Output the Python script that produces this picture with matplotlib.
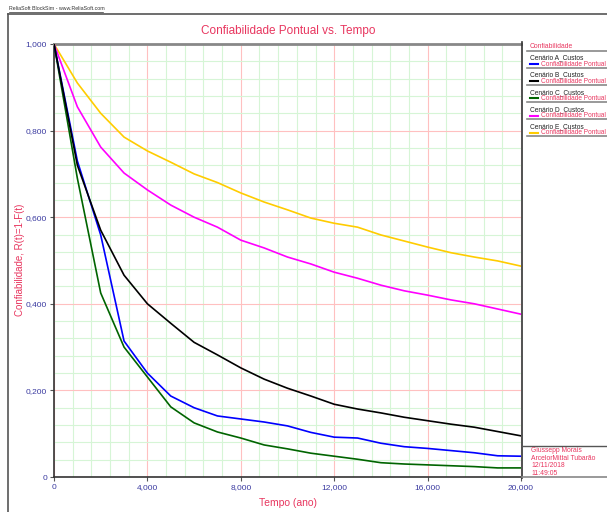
"""
Confiabilidade Pontual vs. Tempo - cenarios de custo (BlockSim)
"""
import numpy as np
import matplotlib.pyplot as plt
from matplotlib.ticker import MultipleLocator, FuncFormatter
from matplotlib.lines import Line2D

plt.rcParams['font.family'] = ['Liberation Sans', 'DejaVu Sans']

'''DADOS'''
tempo = [0, 1000, 2000, 3000, 4000, 5000, 6000, 7000, 8000, 9000, 10000,
         11000, 12000, 13000, 14000, 15000, 16000, 17000, 18000, 19000, 20000]

R_A = [1.0, 0.73, 0.559, 0.314, 0.240, 0.187, 0.160, 0.141, 0.134, 0.127, 0.118,
       0.103, 0.092, 0.090, 0.078, 0.070, 0.066, 0.061, 0.056, 0.049, 0.048]
R_B = [1.0, 0.72, 0.570, 0.466, 0.400, 0.355, 0.311, 0.282, 0.252, 0.226, 0.205,
       0.187, 0.168, 0.157, 0.148, 0.138, 0.130, 0.122, 0.115, 0.105, 0.095]
R_C = [1.0, 0.69, 0.425, 0.300, 0.231, 0.162, 0.125, 0.104, 0.090, 0.074, 0.065,
       0.055, 0.048, 0.041, 0.033, 0.030, 0.028, 0.026, 0.024, 0.021, 0.021]
R_D = [1.0, 0.855, 0.762, 0.702, 0.663, 0.628, 0.600, 0.577, 0.547, 0.529, 0.508,
       0.492, 0.473, 0.459, 0.443, 0.430, 0.420, 0.409, 0.400, 0.388, 0.376]
R_E = [1.0, 0.91, 0.840, 0.785, 0.753, 0.727, 0.700, 0.680, 0.656, 0.635, 0.617,
       0.598, 0.586, 0.577, 0.559, 0.545, 0.531, 0.518, 0.508, 0.499, 0.487]

cenarios = ['Cenário A_Custos', 'Cenário B_Custos', 'Cenário C_Custos',
            'Cenário D_Custos', 'Cenário E_Custos']
cores = ['#0000ff', '#000000', '#006400', '#ff00ff', '#ffcc00']
series = [R_A, R_B, R_C, R_D, R_E]

info = ['Giussepp Morais', 'ArcelorMittal Tubarão', '12/11/2018', '11:49:05']

red = '#e8365f'
blue_txt = '#3a3aa0'
W, H = 607, 512

'''FIGURA'''
fig = plt.figure(figsize=(W/100, H/100), dpi=100)
ax = fig.add_axes([54/W, 1-477/H, 467/W, 433/H])

# ordem de desenho: amarelo e magenta atras
for i in [4, 3, 2, 0, 1]:
    ax.plot(tempo, series[i], color=cores[i], lw=1.2, zorder=3)

ax.set_xlim(0, 20000)
ax.set_ylim(0, 1.0)
ax.xaxis.set_major_locator(MultipleLocator(4000))
ax.xaxis.set_minor_locator(MultipleLocator(800))
ax.yaxis.set_major_locator(MultipleLocator(0.2))
ax.yaxis.set_minor_locator(MultipleLocator(0.04))
ax.grid(which='minor', color='#d6f5d6', lw=0.8, zorder=0)
ax.grid(which='major', color='#ffc0c0', lw=0.8, zorder=1)

fx = lambda v, p: '0' if v == 0 else f'{v:,.0f}'
fy = lambda v, p: '0' if v == 0 else f'{v:.3f}'.replace('.', ',')
ax.xaxis.set_major_formatter(FuncFormatter(fx))
ax.yaxis.set_major_formatter(FuncFormatter(fy))
ax.tick_params(which='major', length=3, width=0.8, labelsize=6,
               labelcolor=blue_txt, color='#555555', pad=2)
ax.tick_params(which='minor', length=0)

for s in ['left', 'bottom']:
    ax.spines[s].set_color('#333333')
    ax.spines[s].set_linewidth(1.2)
ax.spines['top'].set_color('#888888')
ax.spines['top'].set_linewidth(2)
ax.spines['right'].set_visible(False)

fig.text(288/W, 1-503/H, 'Tempo (ano)', color=red, fontsize=7.5,
         ha='center', va='center')
fig.text(20/W, 1-260/H, 'Confiabilidade, R(t)=1-F(t)', color=red, fontsize=7,
         ha='center', va='center', rotation=90)
fig.text(288/W, 1-31/H, 'Confiabilidade Pontual vs. Tempo', color=red,
         fontsize=8.5, ha='center', va='center')

# moldura externa
fig.add_artist(Line2D([8/W, 1], [1-14/H, 1-14/H], color='#555555', lw=1.2))
fig.add_artist(Line2D([8/W, 8/W], [0, 1-14/H], color='#555555', lw=1.2))
fig.text(9/W, 1-11/H, 'ReliaSoft BlockSim - www.ReliaSoft.com', fontsize=3.8,
         color='#333333', va='bottom')
fig.add_artist(Line2D([9/W, 103/W], [1-12/H, 1-12/H], color='#333333', lw=0.5))

# painel da legenda
fig.add_artist(Line2D([522/W, 522/W], [1-42/H, 1-478/H], color='#333333', lw=1.2))
fig.text(530/W, 1-47/H, 'Confiabilidade', color=red, fontsize=4.9, va='center')
fig.add_artist(Line2D([527/W, 1], [1-51/H, 1-51/H], color='#888888', lw=1.2))
for i, nome in enumerate(cenarios):
    y0 = 59 + i*17.2
    fig.text(530/W, 1-(y0-1)/H, nome, color='#222222', fontsize=4.8,
             va='center')
    fig.add_artist(Line2D([530/W, 538/W], [1-(y0+5)/H, 1-(y0+5)/H],
                          color=cores[i], lw=1.5))
    fig.text(541/W, 1-(y0+5)/H, 'Confiabilidade Pontual', color=red,
             fontsize=4.7, va='center')
    fig.add_artist(Line2D([527/W, 1], [1-(y0+8.5)/H, 1-(y0+8.5)/H],
                          color='#888888', lw=1.2))

# caixa de informacoes
fig.add_artist(Line2D([522/W, 1], [1-446/H, 1-446/H], color='#555555', lw=1.0))
fig.add_artist(Line2D([522/W, 1], [1-477/H, 1-477/H], color='#888888', lw=1.2))
for k, linha in enumerate(info):
    fig.text(531/W, 1-(451 + k*7.4)/H, linha, color=red, fontsize=4.9, va='center')

fig.savefig('out.png', dpi=100)
